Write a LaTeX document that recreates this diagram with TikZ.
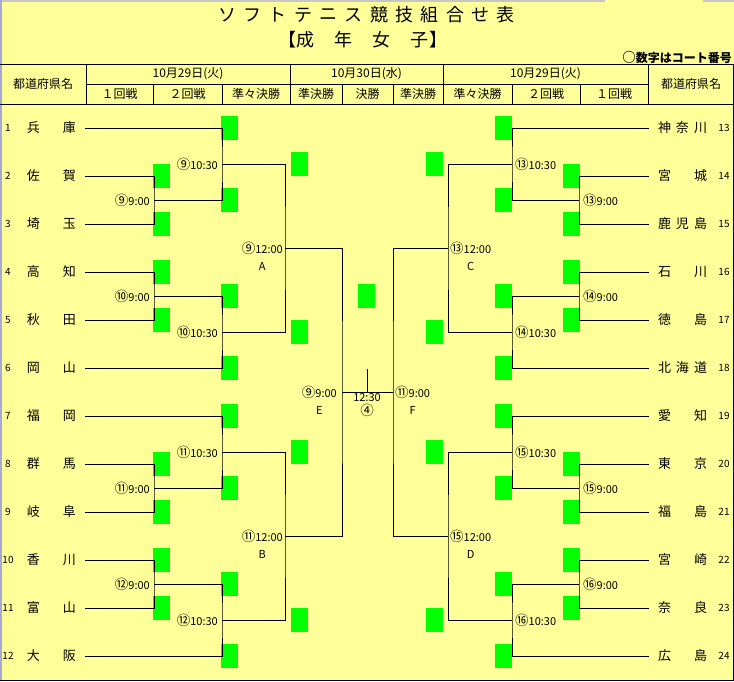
\documentclass[tikz,border=0pt]{standalone}
\usepackage{fontspec}
\setmainfont{Noto Sans CJK JP}
\definecolor{bgyellow}{HTML}{FFFF99}
\definecolor{courtgreen}{HTML}{00FF00}
\definecolor{edgeblue}{HTML}{A8A8D8}
\newcommand{\kenpair}[2]{#1\hspace{23pt}#2}
\newcommand{\kentrio}[3]{#1\hspace{5pt}#2\hspace{5pt}#3}
\newcommand{\crt}[1]{{\fontsize{13.5pt}{11pt}\selectfont #1}}

\begin{document}
\begin{tikzpicture}[x=1pt, y=-1pt]
  \tikzstyle{pref} = [minimum width=67pt, inner sep=0pt, font={\fontsize{13pt}{13pt}\selectfont}];
  \tikzstyle{num} = [inner sep=0pt, font={\fontsize{10pt}{10pt}\selectfont}];
  \tikzstyle{head} = [inner sep=0pt, font={\fontsize{12pt}{12pt}\selectfont}];
  \tikzstyle{courtbox} = [fill=courtgreen, minimum width=17pt, minimum height=24pt, inner sep=0pt];
  \tikzstyle{bracket} = [black, line width=1pt];
  \tikzstyle{timeLabel} = [inner sep=0pt, font={\fontsize{11pt}{11pt}\selectfont}];
  \tikzstyle{blockLabel} = [timeLabel, node distance=18pt];
  \tikzstyle{titleText} = [inner sep=0pt, font={\fontsize{18pt}{18pt}\selectfont}];

  \useasboundingbox (0,0) rectangle (734,681);
  \fill[bgyellow] (0,0) rectangle (734,681);
  \draw[gray!45, line width=1.5pt] (0,0.75) -- (605,0.75) (703,0.75) -- (734,0.75);
  \draw[edgeblue, line width=1.5pt] (0.75,0) -- (0.75,681);

  % title
  \foreach \c [count=\i from 0] in {ソ,フ,ト,テ,ニ,ス,競,技,組,合,せ,表}
    \node[titleText] (ttl\i) at (227+25.36*\i,15) {\c};
  \node[titleText] (sub) at (363,40) {【\hspace{1pt}成\hspace{20pt}年\hspace{20pt}女\hspace{20pt}子\hspace{1pt}】};
  \node[head, anchor=east, font={\fontsize{12pt}{12pt}\selectfont\bfseries}] (note) at (732,57) {\crt{○}数字はコート番号};

  % header
  \draw[bracket] (0,64) -- (734,64) (0,104) -- (734,104) (86,84) -- (648,84);
  \foreach \x in {86,290,443,648} \draw[bracket] (\x,64) -- (\x,104);
  \foreach \x in {153,222,342,393,512,580} \draw[bracket] (\x,84) -- (\x,104);
  \draw[bracket] (733.5,64) -- (733.5,680) -- (0,680);

  \node[head] (H1) at (43,84)    {都道府県名};
  \node[head] (H2) at (188,74)   {10月29日(火)};
  \node[head] (H3) at (366.5,74) {10月30日(水)};
  \node[head] (H4) at (545.5,74) {10月29日(火)};
  \node[head] (H5) at (691,84)   {都道府県名};
  \node[head] (R1) at (119.5,94) {１回戦};
  \node[head] (R2) at (187.5,94) {２回戦};
  \node[head] (R3) at (256,94)   {準々決勝};
  \node[head] (R4) at (316,94)   {準決勝};
  \node[head] (R5) at (367.5,94) {決勝};
  \node[head] (R6) at (418,94)   {準決勝};
  \node[head] (R7) at (477.5,94) {準々決勝};
  \node[head] (R8) at (546,94)   {２回戦};
  \node[head] (R9) at (614,94)   {１回戦};

  % prefectures
  \foreach \a/\b [count=\i] in {兵/庫,佐/賀,埼/玉,高/知,秋/田,岡/山,福/岡,群/馬,岐/阜,香/川,富/山,大/阪} {
    \node[num]  (N\i) at (8,80+48*\i) {\i};
    \node[pref] (P\i) at (51.5,80+48*\i) {\kenpair{\a}{\b}};
  }
  \foreach \name [count=\i from 13] in {\kentrio{神}{奈}{川},\kenpair{宮}{城},\kentrio{鹿}{児}{島},\kenpair{石}{川},\kenpair{徳}{島},\kentrio{北}{海}{道},\kenpair{愛}{知},\kenpair{東}{京},\kenpair{福}{島},\kenpair{宮}{崎},\kenpair{奈}{良},\kenpair{広}{島}} {
    \node[num]  (N\i) at (724,48*\i-496) {\i};
    \node[pref] (P\i) at (682.5,48*\i-496) {\name};
  }

  % courts
  \foreach \y [count=\k] in {176,224,272,320,464,512,560,608} {
    \node[courtbox] (kL\k) at (161.5,\y) {};
    \node[courtbox] (kR\k) at (571.5,\y) {};
  }
  \foreach \y [count=\k] in {128,200,296,368,416,488,584,656} {
    \node[courtbox] (jL\k) at (229.5,\y) {};
    \node[courtbox] (jR\k) at (503.5,\y) {};
  }
  \foreach \y [count=\k] in {164,332,452,620} {
    \node[courtbox] (qL\k) at (299,\y) {};
    \node[courtbox] (qR\k) at (434.5,\y) {};
  }
  \node[courtbox] (fin) at (366.5,296) {};

  % match points
  \coordinate (m1) at (154,200);  \coordinate (m2) at (154,296);
  \coordinate (m3) at (154,488);  \coordinate (m4) at (154,584);
  \coordinate (r1) at (222,164);  \coordinate (r2) at (222,332);
  \coordinate (r3) at (222,452);  \coordinate (r4) at (222,620);
  \coordinate (A) at (285,248);   \coordinate (B) at (285,536);
  \coordinate (E) at (342,392);
  \coordinate (m5) at (579,200);  \coordinate (m6) at (579,296);
  \coordinate (m7) at (579,488);  \coordinate (m8) at (579,584);
  \coordinate (r5) at (512,164);  \coordinate (r6) at (512,332);
  \coordinate (r7) at (512,452);  \coordinate (r8) at (512,620);
  \coordinate (C) at (448,248);   \coordinate (D) at (448,536);
  \coordinate (F) at (393,392);
  \coordinate (T) at (367,369);

  \draw[bracket] (P2.east) -| (m1) |- (P3.east);
  \draw[bracket] (P4.east) -| (m2) |- (P5.east);
  \draw[bracket] (P8.east) -| (m3) |- (P9.east);
  \draw[bracket] (P10.east) -| (m4) |- (P11.east);
  \draw[bracket] (P1.east) -| (r1) |- (m1);
  \draw[bracket] (m2) -| (r2) |- (P6.east);
  \draw[bracket] (P7.east) -| (r3) |- (m3);
  \draw[bracket] (m4) -| (r4) |- (P12.east);
  \draw[bracket] (r1) -| (A) |- (r2);
  \draw[bracket] (r3) -| (B) |- (r4);
  \draw[bracket] (A) -| (E) |- (B);

  \draw[bracket] (P14.west) -| (m5) |- (P15.west);
  \draw[bracket] (P16.west) -| (m6) |- (P17.west);
  \draw[bracket] (P20.west) -| (m7) |- (P21.west);
  \draw[bracket] (P22.west) -| (m8) |- (P23.west);
  \draw[bracket] (P13.west) -| (r5) |- (m5);
  \draw[bracket] (m6) -| (r6) |- (P18.west);
  \draw[bracket] (P19.west) -| (r7) |- (m7);
  \draw[bracket] (m8) -| (r8) |- (P24.west);
  \draw[bracket] (r5) -| (C) |- (r6);
  \draw[bracket] (r7) -| (D) |- (r8);
  \draw[bracket] (C) -| (F) |- (D);

  \draw[bracket] (E) -- (F);
  \draw[bracket] (T) -- (T |- E);

  % times
  \node[timeLabel, left=4pt] (tm1) at (m1) {\crt{⑨}9:00};
  \node[timeLabel, left=4pt] (tm2) at (m2) {\crt{⑩}9:00};
  \node[timeLabel, left=4pt] (tm3) at (m3) {\crt{⑪}9:00};
  \node[timeLabel, left=4pt] (tm4) at (m4) {\crt{⑫}9:00};
  \node[timeLabel, left=4pt] (tr1) at (r1) {\crt{⑨}10:30};
  \node[timeLabel, left=4pt] (tr2) at (r2) {\crt{⑩}10:30};
  \node[timeLabel, left=4pt] (tr3) at (r3) {\crt{⑪}10:30};
  \node[timeLabel, left=4pt] (tr4) at (r4) {\crt{⑫}10:30};
  \node[timeLabel, left=2pt] (tA) at (A) {\crt{⑨}12:00};
  \node[timeLabel, left=2pt] (tB) at (B) {\crt{⑪}12:00};
  \node[timeLabel, left=5pt] (tE) at (E) {\crt{⑨}9:00};

  \node[timeLabel, right=4pt] (tm5) at (m5) {\crt{⑬}9:00};
  \node[timeLabel, right=4pt] (tm6) at (m6) {\crt{⑭}9:00};
  \node[timeLabel, right=4pt] (tm7) at (m7) {\crt{⑮}9:00};
  \node[timeLabel, right=4pt] (tm8) at (m8) {\crt{⑯}9:00};
  \node[timeLabel, right=3pt] (tr5) at (r5) {\crt{⑬}10:30};
  \node[timeLabel, right=3pt] (tr6) at (r6) {\crt{⑭}10:30};
  \node[timeLabel, right=3pt] (tr7) at (r7) {\crt{⑮}10:30};
  \node[timeLabel, right=3pt] (tr8) at (r8) {\crt{⑯}10:30};
  \node[timeLabel, right=2pt] (tC) at (C) {\crt{⑬}12:00};
  \node[timeLabel, right=2pt] (tD) at (D) {\crt{⑮}12:00};
  \node[timeLabel, right=2pt] (tF) at (F) {\crt{⑪}9:00};

  \node[blockLabel] (lA) [below of=tA] {A};
  \node[blockLabel] (lB) [below of=tB] {B};
  \node[blockLabel] (lC) [below of=tC] {C};
  \node[blockLabel] (lD) [below of=tD] {D};
  \node[blockLabel] (lE) [below of=tE] {E};
  \node[blockLabel] (lF) [below of=tF] {F};

  \node[timeLabel] (t0) at (367,398) {12:30};
  \node[blockLabel, node distance=12.5pt] (c0) [below of=t0] {\crt{④}};
\end{tikzpicture}
\end{document}
